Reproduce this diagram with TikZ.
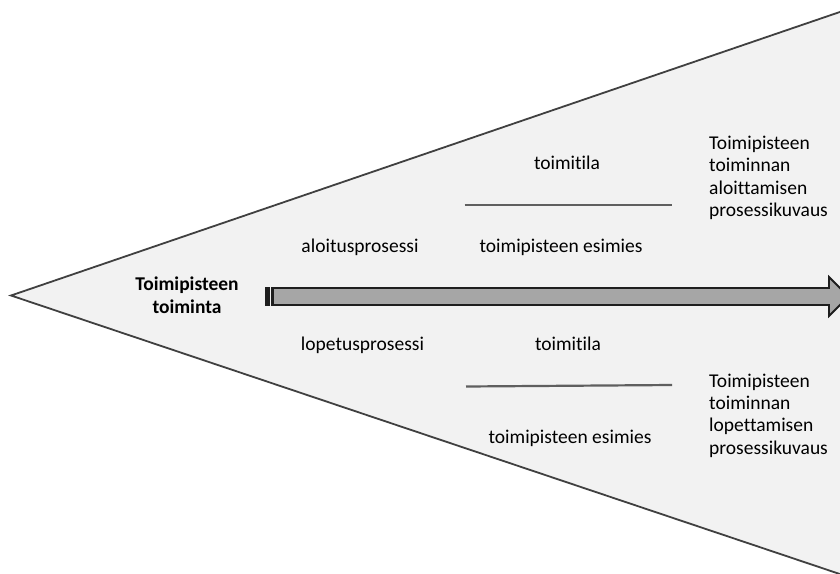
\documentclass[tikz,border=0pt]{standalone}
\usepackage{fontspec}
\setmainfont{Carlito}[Ligatures=CommonOff]
\definecolor{wedgefill}{HTML}{F2F2F2}
\definecolor{wedgeedge}{HTML}{404040}
\definecolor{rulegray}{HTML}{5F5F5F}
\definecolor{arrowfill}{HTML}{A6A6A6}
\definecolor{arrowedge}{HTML}{1E1E1E}
\begin{document}
\begin{tikzpicture}[x=1pt,y=-1pt,
  lbl/.style={font=\fontsize{19.5}{22.4}\selectfont, inner sep=0pt, text=black},
  bold/.style={lbl, font=\fontsize{19.5}{23}\selectfont\bfseries, align=center},
  column/.style={lbl, align=left, anchor=west},
  divider/.style={draw=rulegray, line width=2.2pt},
  wedge/.style={fill=wedgefill, draw=wedgeedge, line width=1.8pt, line join=miter},
  shaft/.style={fill=arrowfill, draw=arrowedge, line width=1.8pt, line join=miter},
  stripe/.style={fill=arrowedge, draw=arrowedge, line width=0.8pt}]
\useasboundingbox (0,0) rectangle (840,573);
\fill[white] (0,0) rectangle (840,573);
\clip (0,0) rectangle (840,573);

% the wedge
\path[wedge] (11,295.5) -- (860,5.1) -- (860,580.8) -- cycle;

% striped arrow along the axis
\path[stripe] (265.5,287.5) rectangle (269.5,305.5);
\path[stripe] (271,287.5) rectangle (272,305.5);
\path[shaft] (273,288) -- (829,288) -- (829,277) -- (848.5,296.5)
  -- (829,316) -- (829,305) -- (273,305) -- cycle;

% separator lines
\draw[divider] (464.5,205) -- (671.5,205);
\draw[divider] (466,386.5) -- (672,385);

% labels
\node[bold] (main) at (187,295) {Toimipisteen\\toiminta};

\node[lbl, anchor=base] (alku) at (360,252.5) {aloitusprosessi};
\node[lbl, anchor=base] (tilaA) at (567,169) {toimitila};
\node[lbl, anchor=base] (esimA) at (561,252.5) {toimipisteen esimies};
\node[column] (kuvausA) at (709,178)
  {Toimipisteen\\toiminnan\\aloittamisen\\prosessikuvaus};

\node[lbl, anchor=base] (loppu) at (362.5,350.7) {lopetusprosessi};
\node[lbl, anchor=base] (tilaB) at (568,350.7) {toimitila};
\node[lbl, anchor=base] (esimB) at (570,443) {toimipisteen esimies};
\node[column] (kuvausB) at (709,415.5)
  {Toimipisteen\\toiminnan\\lopettamisen\\prosessikuvaus};
\end{tikzpicture}
\end{document}
